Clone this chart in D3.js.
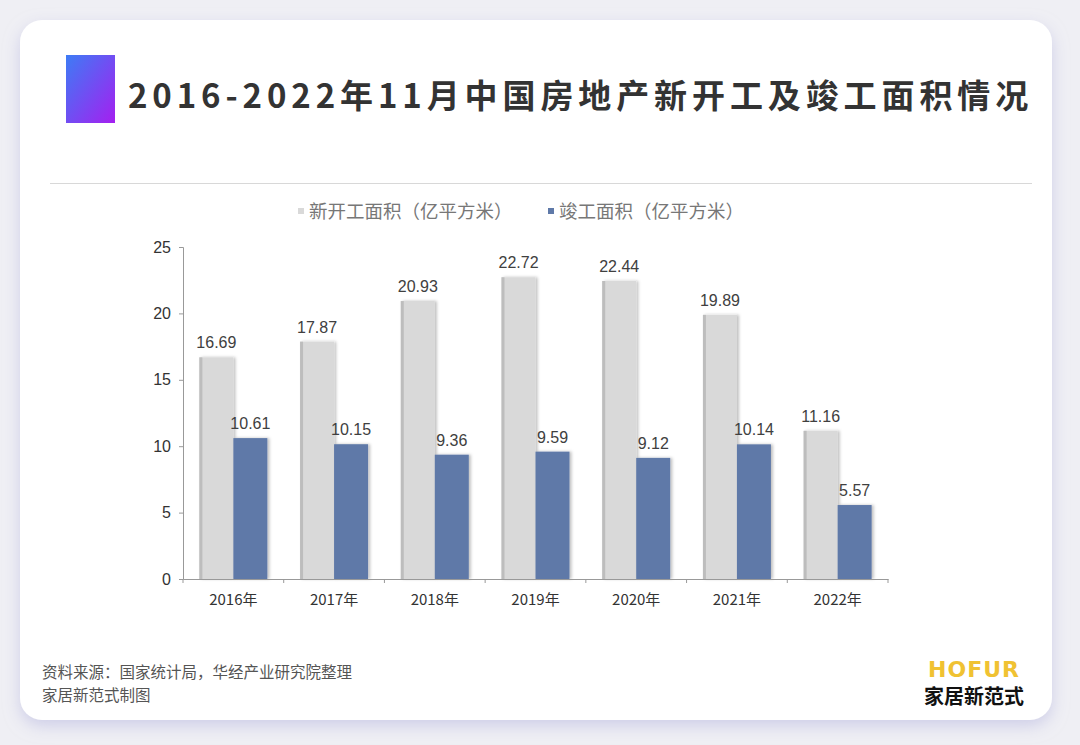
<!DOCTYPE html>
<html>
<head>
<meta charset="utf-8">
<script src="https://cdn.jsdelivr.net/npm/d3@7"></script>
<style>
  html, body { margin: 0; padding: 0; background: #efeff4; }
  #chart { width: 1080px; height: 745px; }
</style>
</head>
<body>
<div id="chart"></div>
<script>
const years = ["2016年", "2017年", "2018年", "2019年", "2020年", "2021年", "2022年"];
const newStart = [16.69, 17.87, 20.93, 22.72, 22.44, 19.89, 11.16];
const completed = [10.61, 10.15, 9.36, 9.59, 9.12, 10.14, 5.57];
const seriesNames = ["新开工面积（亿平方米）", "竣工面积（亿平方米）"];
const yTicks = [0, 5, 10, 15, 20, 25];

const width = 1080, height = 745;
const cjk = "'Noto Sans CJK SC', 'Noto Sans', sans-serif";
const latin = "'Liberation Sans', Arial, " + cjk;

const svg = d3.select("#chart").append("svg")
  .attr("width", width)
  .attr("height", height);

const defs = svg.append("defs");

// card shadow
const shadow = defs.append("filter").attr("id", "cardShadow")
  .attr("x", "-5%").attr("y", "-5%").attr("width", "110%").attr("height", "115%");
shadow.append("feDropShadow")
  .attr("dx", 0).attr("dy", 6).attr("stdDeviation", 8)
  .attr("flood-color", "#b9b9e0").attr("flood-opacity", 0.6);

// title square gradient
const grad = defs.append("linearGradient").attr("id", "titleGrad")
  .attr("x1", "0%").attr("y1", "0%").attr("x2", "100%").attr("y2", "100%");
grad.append("stop").attr("offset", "0%").attr("stop-color", "#3d7cf5");
grad.append("stop").attr("offset", "100%").attr("stop-color", "#a51ff0");

// bar shadow
const barShadow = defs.append("filter").attr("id", "barShadow")
  .attr("x", "-20%").attr("y", "-5%").attr("width", "140%").attr("height", "110%");
barShadow.append("feDropShadow")
  .attr("dx", 2).attr("dy", 0).attr("stdDeviation", 1.5)
  .attr("flood-color", "#000").attr("flood-opacity", 0.25);

svg.append("rect")
  .attr("x", 20).attr("y", 20)
  .attr("width", 1032).attr("height", 700)
  .attr("rx", 22)
  .attr("fill", "#fff")
  .attr("filter", "url(#cardShadow)");

// title
svg.append("rect")
  .attr("x", 66).attr("y", 55)
  .attr("width", 49).attr("height", 68)
  .attr("fill", "url(#titleGrad)");

svg.append("text")
  .attr("x", 128).attr("y", 108)
  .attr("font-family", cjk)
  .attr("font-size", 33)
  .attr("font-weight", 700)
  .attr("letter-spacing", 4.9)
  .attr("fill", "#333")
  .text("2016-2022年11月中国房地产新开工及竣工面积情况");

svg.append("line")
  .attr("x1", 50).attr("x2", 1032)
  .attr("y1", 183.5).attr("y2", 183.5)
  .attr("stroke", "#d8d8d8");

// legend
const colors = ["#d9d9d9", "#5f79a8"];
const legendX = [298, 548];
seriesNames.forEach((name, i) => {
  const g = svg.append("g").attr("transform", `translate(${legendX[i]},212)`);
  g.append("rect").attr("x", 0).attr("y", -4).attr("width", 6).attr("height", 6)
    .attr("fill", colors[i]);
  g.append("text").attr("x", 11).attr("y", 0)
    .attr("dy", "0.35em")
    .attr("font-family", cjk)
    .attr("font-size", 18.5)
    .attr("fill", "#777")
    .text(name);
});

// chart area
const plot = { left: 183, right: 888, top: 247, bottom: 579 };

const x = d3.scaleBand()
  .domain(years)
  .range([plot.left, plot.right])
  .paddingInner(0)
  .paddingOuter(0);

const y = d3.scaleLinear()
  .domain([0, 25])
  .range([plot.bottom, plot.top]);

const barW = 34;

// y axis
const yAxis = svg.append("g")
  .attr("transform", `translate(${plot.left},0)`)
  .call(d3.axisLeft(y).tickValues(yTicks).tickSize(4).tickPadding(8));
yAxis.select(".domain").attr("stroke", "#999");
yAxis.selectAll(".tick line").attr("stroke", "#999");
yAxis.selectAll("text")
  .attr("font-family", latin)
  .attr("font-size", 16)
  .attr("fill", "#333");

// bars
const groups = svg.append("g").selectAll("g")
  .data(years)
  .join("g")
  .attr("transform", d => `translate(${x(d) + x.bandwidth() / 2},0)`);

groups.append("rect")
  .attr("x", -barW)
  .attr("y", (d, i) => y(newStart[i]))
  .attr("width", barW)
  .attr("height", (d, i) => y(0) - y(newStart[i]))
  .attr("fill", colors[0])
  .attr("filter", "url(#barShadow)");

groups.append("rect")
  .attr("x", -barW)
  .attr("y", (d, i) => y(newStart[i]))
  .attr("width", 3)
  .attr("height", (d, i) => y(0) - y(newStart[i]))
  .attr("fill", "#bdbdbd");

groups.append("rect")
  .attr("x", 0)
  .attr("y", (d, i) => y(completed[i]))
  .attr("width", barW)
  .attr("height", (d, i) => y(0) - y(completed[i]))
  .attr("fill", colors[1])
  .attr("filter", "url(#barShadow)");

groups.append("text")
  .attr("x", -barW / 2)
  .attr("y", (d, i) => y(newStart[i]) - 9)
  .attr("text-anchor", "middle")
  .attr("font-family", latin)
  .attr("font-size", 16)
  .attr("fill", "#404040")
  .text((d, i) => newStart[i].toFixed(2));

groups.append("text")
  .attr("x", barW / 2)
  .attr("y", (d, i) => y(completed[i]) - 9)
  .attr("text-anchor", "middle")
  .attr("font-family", latin)
  .attr("font-size", 16)
  .attr("fill", "#404040")
  .text((d, i) => completed[i].toFixed(2));

// x axis
const xAxis = svg.append("g")
  .attr("transform", `translate(0,${plot.bottom})`)
  .call(d3.axisBottom(x).tickSize(0).tickPadding(15));
xAxis.select(".domain").attr("stroke", "#999");
xAxis.selectAll("text")
  .attr("font-family", cjk)
  .attr("font-size", 15)
  .attr("fill", "#333");
// boundary tick marks between categories
svg.append("g").selectAll("line")
  .data(years.concat(["end"]))
  .join("line")
  .attr("x1", (d, i) => plot.left + i * x.step())
  .attr("x2", (d, i) => plot.left + i * x.step())
  .attr("y1", plot.bottom)
  .attr("y2", plot.bottom + 4)
  .attr("stroke", "#999");

// footer
svg.append("text")
  .attr("x", 42).attr("y", 678)
  .attr("font-family", cjk)
  .attr("font-size", 15.5)
  .attr("fill", "#555")
  .text("资料来源：国家统计局，华经产业研究院整理");
svg.append("text")
  .attr("x", 42).attr("y", 701)
  .attr("font-family", cjk)
  .attr("font-size", 15.5)
  .attr("fill", "#555")
  .text("家居新范式制图");

svg.append("text")
  .attr("x", 974).attr("y", 677)
  .attr("text-anchor", "middle")
  .attr("font-family", "'DejaVu Sans', sans-serif")
  .attr("font-size", 22)
  .attr("font-weight", 700)
  .attr("letter-spacing", 1)
  .attr("fill", "#f0c232")
  .text("HOFUR");
svg.append("text")
  .attr("x", 974).attr("y", 704)
  .attr("text-anchor", "middle")
  .attr("font-family", cjk)
  .attr("font-size", 20)
  .attr("font-weight", 700)
  .attr("fill", "#111")
  .text("家居新范式");
</script>
</body>
</html>
